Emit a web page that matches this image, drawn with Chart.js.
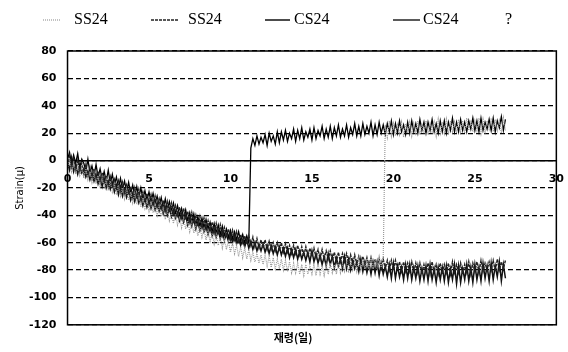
<!DOCTYPE html>
<html>
<head>
<meta charset="utf-8">
<script src="https://cdn.jsdelivr.net/npm/chart.js@4.4.1/dist/chart.umd.min.js"></script>
<style>
  body { margin: 0; background: #fff; }
  #wrap { width: 568px; height: 352px; }
</style>
</head>
<body>
<div id="wrap"><canvas id="strain" width="568" height="352"></canvas></div>
<script>
// age in days (one reading every 3 hours)
var days = [
  0, 0.125, 0.25, 0.375, 0.5, 0.625, 0.75, 0.875,
  1, 1.125, 1.25, 1.375, 1.5, 1.625, 1.75, 1.875,
  2, 2.125, 2.25, 2.375, 2.5, 2.625, 2.75, 2.875,
  3, 3.125, 3.25, 3.375, 3.5, 3.625, 3.75, 3.875,
  4, 4.125, 4.25, 4.375, 4.5, 4.625, 4.75, 4.875,
  5, 5.125, 5.25, 5.375, 5.5, 5.625, 5.75, 5.875,
  6, 6.125, 6.25, 6.375, 6.5, 6.625, 6.75, 6.875,
  7, 7.125, 7.25, 7.375, 7.5, 7.625, 7.75, 7.875,
  8, 8.125, 8.25, 8.375, 8.5, 8.625, 8.75, 8.875,
  9, 9.125, 9.25, 9.375, 9.5, 9.625, 9.75, 9.875,
  10, 10.125, 10.25, 10.375, 10.5, 10.625, 10.75, 10.875,
  11, 11.125, 11.25, 11.375, 11.5, 11.625, 11.75, 11.875,
  12, 12.125, 12.25, 12.375, 12.5, 12.625, 12.75, 12.875,
  13, 13.125, 13.25, 13.375, 13.5, 13.625, 13.75, 13.875,
  14, 14.125, 14.25, 14.375, 14.5, 14.625, 14.75, 14.875,
  15, 15.125, 15.25, 15.375, 15.5, 15.625, 15.75, 15.875,
  16, 16.125, 16.25, 16.375, 16.5, 16.625, 16.75, 16.875,
  17, 17.125, 17.25, 17.375, 17.5, 17.625, 17.75, 17.875,
  18, 18.125, 18.25, 18.375, 18.5, 18.625, 18.75, 18.875,
  19, 19.125, 19.25, 19.375, 19.5, 19.625, 19.75, 19.875,
  20, 20.125, 20.25, 20.375, 20.5, 20.625, 20.75, 20.875,
  21, 21.125, 21.25, 21.375, 21.5, 21.625, 21.75, 21.875,
  22, 22.125, 22.25, 22.375, 22.5, 22.625, 22.75, 22.875,
  23, 23.125, 23.25, 23.375, 23.5, 23.625, 23.75, 23.875,
  24, 24.125, 24.25, 24.375, 24.5, 24.625, 24.75, 24.875,
  25, 25.125, 25.25, 25.375, 25.5, 25.625, 25.75, 25.875,
  26, 26.125, 26.25, 26.375, 26.5, 26.625, 26.75, 26.875
];

var legendNames = ['SS24', 'SS24', 'CS24', 'CS24', '?'];

// SS24 (dotted) - gauge jumps at about day 19.5
var ss24a = [
  -6, 1, -8, -2, -10, -4, -11, -5,
  -13, -6, -14, -8, -16, -9, -17, -11,
  -19, -12, -20, -14, -22, -15, -23, -17,
  -25, -18, -26, -20, -28, -21, -29, -23,
  -31, -24, -32, -26, -34, -27, -35, -29,
  -37, -30, -38, -32, -40, -33, -41, -35,
  -43, -36, -44, -38, -46, -39, -47, -41,
  -49, -42, -50, -44, -52, -45, -53, -47,
  -55, -48, -56, -50, -58, -51, -59, -53,
  -61, -54, -62, -56, -64, -57, -65, -59,
  -67, -60, -68, -62, -70, -63, -71, -64,
  -72, -65, -73, -67, -74, -68, -75, -69,
  -76, -69, -77, -70, -78, -71, -79, -72,
  -79, -72, -80, -73, -81, -74, -82, -75,
  -82, -75, -83, -76, -84, -76, -83, -77,
  -83, -76, -84, -75, -83, -77, -84, -76,
  -83, -75, -82, -76, -83, -74, -82, -75,
  -81, -74, -82, -73, -80, -74, -81, -72,
  -80, -72, -79, -73, -78, -71, -79, -72,
  -77, -70, -78, -71, 26, 17, 29, 18,
  27, 18, 26, 19, 28, 17, 27, 20,
  28, 18, 27, 20, 29, 19, 26, 21,
  29, 19, 27, 21, 28, 18, 30, 20,
  28, 20, 30, 19, 29, 21, 28, 20,
  30, 21, 29, 20, 31, 22, 28, 21,
  29, 22, 31, 20, 30, 21, 29, 23,
  31, 21, 30, 22, 29, 20, 31, 22
];

// SS24 (dashed)
var ss24b = [
  -4, 3, -5, 1, -7, 0, -8, -2,
  -10, -3, -11, -5, -13, -6, -14, -8,
  -16, -9, -17, -11, -19, -12, -20, -14,
  -22, -15, -23, -16, -24, -18, -25, -19,
  -27, -20, -28, -21, -29, -23, -30, -24,
  -32, -25, -33, -26, -34, -28, -35, -29,
  -37, -30, -38, -31, -39, -33, -40, -34,
  -42, -35, -43, -37, -45, -38, -46, -40,
  -48, -41, -49, -42, -50, -44, -51, -45,
  -53, -46, -54, -47, -55, -49, -56, -50,
  -58, -51, -58, -52, -59, -54, -60, -55,
  -61, -55, -62, -56, -63, -57, -64, -58,
  -64, -58, -65, -59, -65, -60, -66, -60,
  -66, -60, -67, -61, -67, -62, -68, -62,
  -68, -62, -69, -63, -70, -63, -70, -64,
  -70, -64, -71, -65, -72, -65, -72, -66,
  -72, -66, -73, -67, -74, -67, -74, -68,
  -74, -68, -75, -69, -76, -69, -76, -70,
  -76, -70, -77, -71, -78, -71, -78, -72,
  -78, -72, -79, -72, -79, -73, -80, -73,
  -80, -73, -80, -74, -81, -74, -81, -75,
  -81, -74, -82, -75, -82, -75, -83, -76,
  -82, -75, -83, -74, -82, -76, -83, -75,
  -83, -76, -82, -75, -83, -74, -82, -76,
  -82, -75, -83, -76, -82, -74, -83, -75,
  -81, -74, -82, -73, -81, -75, -80, -74,
  -80, -73, -81, -72, -80, -74, -79, -73
];

// CS24 (solid)
var cs24a = [
  -1, -7, 2, -8, -3, -10, -4, -9,
  -6, -12, -8, -14, -9, -15, -10, -17,
  -12, -19, -13, -20, -15, -21, -16, -23,
  -18, -25, -19, -26, -21, -27, -22, -29,
  -24, -30, -25, -31, -27, -33, -28, -34,
  -29, -35, -30, -36, -31, -37, -33, -39,
  -34, -40, -35, -41, -36, -42, -38, -44,
  -39, -45, -40, -47, -42, -48, -43, -50,
  -45, -51, -46, -52, -48, -54, -49, -55,
  -50, -56, -51, -57, -52, -58, -54, -59,
  -54, -60, -55, -61, -57, -62, -58, -63,
  -58, -64, -59, -65, -60, -66, -61, -66,
  -61, -67, -62, -68, -62, -68, -63, -69,
  -63, -69, -64, -70, -64, -71, -65, -71,
  -65, -72, -66, -72, -67, -73, -67, -74,
  -66, -74, -68, -75, -69, -76, -70, -77,
  -68, -76, -70, -78, -71, -77, -72, -79,
  -70, -79, -72, -80, -73, -79, -74, -81,
  -72, -81, -74, -82, -75, -83, -74, -82,
  -74, -84, -75, -83, -77, -85, -76, -86,
  -75, -86, -77, -85, -78, -87, -76, -86,
  -76, -87, -78, -86, -77, -88, -79, -87,
  -77, -88, -76, -87, -79, -89, -78, -87,
  -78, -88, -77, -89, -79, -87, -76, -90,
  -77, -89, -79, -87, -76, -88, -78, -89,
  -76, -87, -78, -88, -75, -86, -77, -88,
  -75, -87, -77, -85, -74, -88, -76, -86
];

// CS24 (thin solid) - gauge jumps at about day 11.2
var cs24b = [
  1, 6, -3, 4, -2, 5, -5, 1,
  -2, -8, 1, -9, -4, -11, -3, -12,
  -6, -14, -8, -15, -7, -17, -10, -18,
  -12, -20, -13, -21, -15, -23, -16, -24,
  -18, -26, -19, -27, -20, -28, -22, -29,
  -23, -30, -24, -31, -26, -33, -27, -35,
  -28, -36, -30, -37, -31, -39, -33, -40,
  -35, -42, -36, -44, -38, -45, -39, -47,
  -41, -48, -42, -49, -43, -50, -45, -52,
  -46, -53, -47, -54, -48, -55, -50, -56,
  -51, -57, -52, -58, -52, -59, -54, -60,
  -55, -60, 9, 16, 11, 18, 12, 17,
  13, 19, 11, 20, 14, 18, 12, 21,
  13, 21, 15, 22, 14, 20, 16, 23,
  14, 22, 16, 24, 15, 21, 17, 23,
  15, 24, 16, 22, 18, 25, 16, 23,
  17, 25, 16, 24, 18, 26, 17, 23,
  18, 26, 17, 24, 19, 27, 18, 25,
  18, 27, 19, 25, 20, 28, 18, 26,
  19, 28, 20, 26, 19, 27, 21, 29,
  19, 27, 20, 29, 21, 26, 19, 28,
  20, 29, 21, 27, 20, 30, 22, 28,
  20, 28, 22, 30, 21, 27, 20, 29,
  21, 29, 20, 28, 22, 31, 21, 28,
  21, 30, 22, 28, 21, 29, 23, 31,
  22, 29, 21, 31, 22, 28, 23, 30,
  22, 31, 21, 29, 24, 32, 22, 30
];

var yMin = -120, yMax = 80, yStep = 20;
var xMin = 0, xMax = 30, xStep = 5;
var yTitle = 'Strain(μ)';

function toPoints(vals) {
    return vals.map((v, i) => ({ x: days[i], y: v }));
}

// frame round the plot area
const plotBox = {
    id: 'plotBox',
    afterDatasetsDraw(chart) {
        const a = chart.chartArea;
        const ctx = chart.ctx;
        ctx.save();
        ctx.strokeStyle = '#000';
        ctx.lineWidth = 1.5;
        ctx.setLineDash([]);
        ctx.strokeRect(a.left, a.top, a.right - a.left, a.bottom - a.top);
        // rotated y title, sitting close to the tick labels as in the scan
        ctx.translate(20, (a.top + a.bottom) / 2);
        ctx.rotate(-Math.PI / 2);
        ctx.font = '10px "DejaVu Sans"';
        ctx.fillStyle = '#000';
        ctx.textAlign = 'center';
        ctx.textBaseline = 'middle';
        ctx.fillText(yTitle, 0, 0);
        ctx.restore();
    }
};

// legend row along the top, spaced like the original scan
const topLegend = {
    id: 'topLegend',
    afterDraw(chart) {
        const ctx = chart.ctx;
        const slots = [[43, 17, 74], [151, 27, 188], [265, 25, 294], [393, 27, 423], [505, 0, 505]];
        ctx.save();
        ctx.font = '16px "Liberation Serif"';
        ctx.textBaseline = 'middle';
        ctx.fillStyle = '#000';
        chart.data.datasets.forEach((ds, i) => {
            const s = slots[i];
            if (s[1] > 0) {
                ctx.strokeStyle = ds.borderColor;
                ctx.lineWidth = ds.borderWidth;
                ctx.setLineDash(ds.borderDash || []);
                ctx.beginPath();
                ctx.moveTo(s[0], 20);
                ctx.lineTo(s[0] + s[1], 20);
                ctx.stroke();
            }
            ctx.fillText(ds.label, s[2], 20);
        });
        ctx.restore();
    }
};

const ctx = document.getElementById('strain');
new Chart(ctx, {
    type: 'line',
    data: {
        datasets: [{
            label: legendNames[0],
            data: toPoints(ss24a),
            borderColor: '#9a9a9a',
            borderWidth: 1.2,
            borderDash: [1, 1]
        }, {
            label: legendNames[1],
            data: toPoints(ss24b),
            borderColor: '#222',
            borderWidth: 1.4,
            borderDash: [3, 1]
        }, {
            label: legendNames[2],
            data: toPoints(cs24a),
            borderColor: '#111',
            borderWidth: 1.5
        }, {
            label: legendNames[3],
            data: toPoints(cs24b),
            borderColor: '#000',
            borderWidth: 1.3
        }, {
            label: legendNames[4],
            data: [],
            borderColor: 'rgba(0,0,0,0)',
            borderWidth: 1
        }]
    },
    options: {
        responsive: false,
        animation: false,
        layout: {
            padding: { left: 18, right: 0, top: 51, bottom: 4 }
        },
        elements: {
            point: { radius: 0 },
            line: { tension: 0 }
        },
        plugins: {
            legend: { display: false },
            title: {
                display: true,
                position: 'bottom',
                text: '재령(일)',
                color: '#000',
                font: { family: 'Noto Sans CJK KR', size: 11, weight: 'bold' },
                padding: { top: 6, bottom: 4 }
            },
            tooltip: { enabled: false }
        },
        scales: {
            x: {
                type: 'linear',
                position: { y: 0 },
                min: xMin,
                max: xMax,
                grid: { display: false },
                border: { display: true, color: '#000', width: 1.5 },
                ticks: {
                    stepSize: xStep,
                    padding: 4,
                    color: '#000',
                    maxRotation: 0,
                    font: { family: 'DejaVu Sans', size: 11, weight: 'bold' }
                }
            },
            y: {
                min: yMin,
                max: yMax,
                grid: {
                    color: '#000',
                    lineWidth: 1.2,
                    drawTicks: false
                },
                border: { display: false, dash: [5, 3] },
                ticks: {
                    stepSize: yStep,
                    padding: 11,
                    color: '#000',
                    font: { family: 'DejaVu Sans', size: 11, weight: 'bold' }
                }
            }
        }
    },
    plugins: [plotBox, topLegend]
});
</script>
</body>
</html>
